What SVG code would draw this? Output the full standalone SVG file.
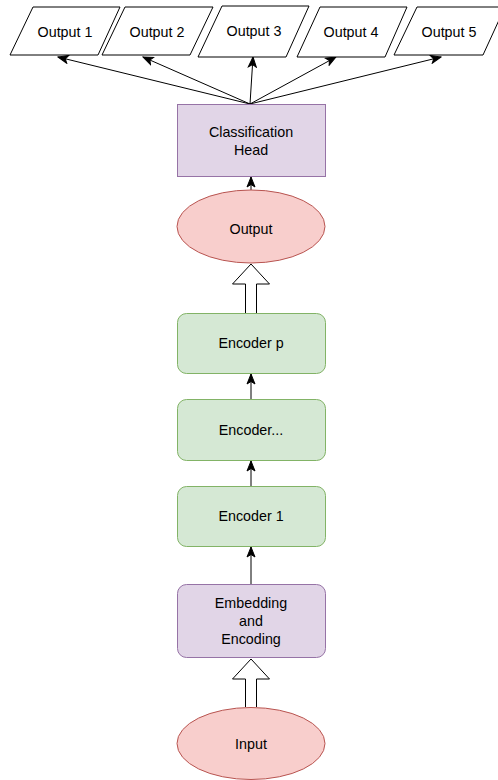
<svg xmlns="http://www.w3.org/2000/svg" width="498" height="780" viewBox="0 0 498 780">
<style>
text{font-family:"Liberation Sans",Arial,sans-serif;font-size:14.3px;fill:#000;text-anchor:middle;dominant-baseline:central}
.para{fill:#fff;stroke:#000;stroke-width:1}
.purple{fill:#e1d5e7;stroke:#9673a6;stroke-width:1}
.green{fill:#d5e8d4;stroke:#82b366;stroke-width:1}
.red{fill:#f8cecc;stroke:#b85450;stroke-width:1}
.edge{fill:none;stroke:#000;stroke-width:1;marker-end:url(#arr)}
.block{fill:#fff;stroke:#000;stroke-width:1}
</style>
<defs>
<marker id="arr" markerUnits="userSpaceOnUse" markerWidth="12" markerHeight="10" viewBox="0 0 12 10" refX="11" refY="5" orient="auto">
<path d="M1,1 L11,5 L1,9 L3.5,5 Z" fill="#000" stroke="#000" stroke-width="1"/>
</marker>
</defs>
<rect width="498" height="780" fill="#fff"/>
<g id="connectors">
<path class="edge" d="M250,104 L58,57"/>
<path class="edge" d="M250,104 L143,57"/>
<path class="edge" d="M250,104 L253,57"/>
<path class="edge" d="M250,104 L336,57"/>
<path class="edge" d="M250,104 L441,57"/>
<path class="edge" d="M251,190 L251,177"/>
<path class="block" d="M245.5,313 L245.5,284 L232.5,284 L251,264 L269.5,284 L256.5,284 L256.5,313"/>
<path class="edge" d="M251,399 L251,374"/>
<path class="edge" d="M251,486 L251,461"/>
<path class="edge" d="M251,585 L251,547"/>
<path class="block" d="M245.5,707 L245.5,679 L232.5,679 L251,659 L269.5,679 L256.5,679 L256.5,707"/>
</g>
<g id="output1"><polygon class="para" points="33,7 120,7 98,55 10,55"/><text x="65" y="32">Output 1</text></g>
<g id="output2"><polygon class="para" points="125,7 213,7 190,55 102,55"/><text x="157" y="32">Output 2</text></g>
<g id="output3"><polygon class="para" points="222,6 309,6 286,57 198,57"/><text x="254" y="31">Output 3</text></g>
<g id="output4"><polygon class="para" points="320,7 407,7 385,57 297,57"/><text x="351" y="32">Output 4</text></g>
<g id="output5"><polygon class="para" points="417,7 505,7 483,55 394,55"/><text x="449" y="32">Output 5</text></g>
<g id="classification-head"><rect class="purple" x="177.5" y="104.5" width="148" height="72"/><text x="251" y="132">Classification</text><text x="251" y="150">Head</text></g>
<g id="output"><ellipse class="red" cx="251" cy="226.5" rx="74" ry="36.5"/><text x="251" y="229">Output</text></g>
<g id="encoder-p"><rect class="green" x="177.5" y="313.5" width="148" height="60" rx="9"/><text x="251" y="343">Encoder p</text></g>
<g id="encoder-dots"><rect class="green" x="177.5" y="399.5" width="148" height="61" rx="9"/><text x="251" y="430">Encoder...</text></g>
<g id="encoder-1"><rect class="green" x="177.5" y="486.5" width="148" height="60" rx="9"/><text x="251" y="516">Encoder 1</text></g>
<g id="embedding"><rect class="purple" x="177.5" y="584.5" width="148" height="73" rx="9"/><text x="251" y="603">Embedding</text><text x="251" y="621">and</text><text x="251" y="639">Encoding</text></g>
<g id="input"><ellipse class="red" cx="251" cy="743.5" rx="74" ry="36"/><text x="251" y="744">Input</text></g>
</svg>
